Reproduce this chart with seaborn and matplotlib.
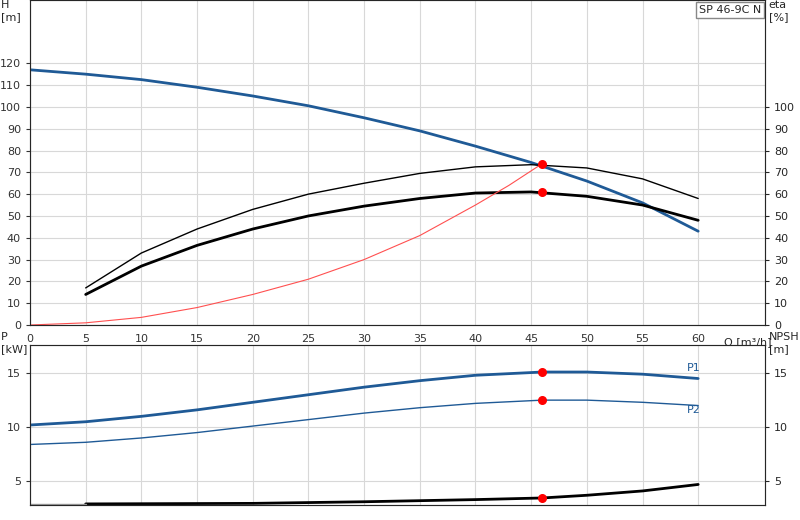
import matplotlib
matplotlib.use("Agg")
import matplotlib.pyplot as plt
import seaborn as sns

sns.set_style("white")
plt.rcParams['font.family'] = ['DejaVu Sans']

# head curve
q_h = [0, 5, 10, 15, 20, 25, 30, 35, 40, 45, 50, 55, 60]
h = [117, 115, 112.5, 109, 105, 100.5, 95, 89, 82, 74.5, 66, 56, 43]
# efficiencies
q_e = [5, 10, 15, 20, 25, 30, 35, 40, 45, 50, 55, 60]
eta_pump = [17, 33, 44, 53, 60, 65, 69.5, 72.5, 73.5, 72, 67, 58]
eta_tot = [14, 27, 36.5, 44, 50, 54.5, 58, 60.5, 61, 59, 55, 48]
# system curve
q_s = [0, 5, 10, 15, 20, 25, 30, 35, 40, 43, 46]
h_s = [0, 1, 3.5, 8, 14, 21, 30, 41, 55, 64, 74]
# power / npsh
q_p = [0, 5, 10, 15, 20, 25, 30, 35, 40, 46, 50, 55, 60]
p1 = [10.2, 10.5, 11, 11.6, 12.3, 13, 13.7, 14.3, 14.8, 15.1, 15.1, 14.9, 14.5]
p2 = [8.4, 8.6, 9, 9.5, 10.1, 10.7, 11.3, 11.8, 12.2, 12.5, 12.5, 12.3, 12.0]
q_n = [5, 20, 30, 40, 46, 50, 55, 60]
npsh = [2.9, 2.95, 3.1, 3.3, 3.45, 3.7, 4.1, 4.7]
duty_q = 46
duty_top = [74, 61]
duty_bot = [15.1, 12.5, 3.45]

blue = "#1f5a96"
fig = plt.figure(figsize=(8, 5.2), dpi=100)
ax1 = fig.add_axes([30/800, 1-325/520, 735/800, 325/520])
ax2 = fig.add_axes([30/800, 1-505/520, 735/800, 160/520])

for ax in (ax1, ax2):
    ax.set_xlim(0, 66)
    ax.set_xticks(range(0, 65, 5))
    ax.grid(True, color="#d8d8d8", lw=0.8)
    for s in ax.spines.values():
        s.set_color("#888888")
    ax.tick_params(labelsize=8, length=3, colors="#333333")

sns.lineplot(x=q_h, y=h, ax=ax1, color=blue, lw=2)
sns.lineplot(x=q_e, y=eta_pump, ax=ax1, color="black", lw=1)
sns.lineplot(x=q_e, y=eta_tot, ax=ax1, color="black", lw=2)
sns.lineplot(x=q_s, y=h_s, ax=ax1, color="#ff5050", lw=0.8)
ax1.scatter([duty_q]*2, duty_top, color="red", s=30, zorder=5)
ax1.set_ylim(0, 149)
ax1.set_yticks(range(0, 121, 10))
ax1.set_xticklabels([str(v) for v in range(0, 65, 5)])
ax1.text(62.3, -8, "Q [m³/h]", fontsize=8, va="center")
r1 = ax1.twinx()
r1.set_ylim(0, 149)
r1.set_yticks(range(0, 101, 10))
r1.tick_params(labelsize=8, length=3)
ax1.text(-0.04, 1.0, "H\n[m]", transform=ax1.transAxes, fontsize=8, va="top")
ax1.text(1.005, 1.0, "eta\n[%]", transform=ax1.transAxes, fontsize=8, va="top")
ax1.text(0.995, 0.985, "SP 46-9C N", transform=ax1.transAxes, fontsize=8, ha="right", va="top",
         bbox=dict(facecolor="white", edgecolor="#888888", pad=2))

sns.lineplot(x=q_p, y=p1, ax=ax2, color=blue, lw=2)
sns.lineplot(x=q_p, y=p2, ax=ax2, color=blue, lw=1)
sns.lineplot(x=q_n, y=npsh, ax=ax2, color="black", lw=2)
ax2.plot([0, 5], [2.9, 2.9], color="#999999", lw=1)
ax2.scatter([duty_q]*3, duty_bot, color="red", s=30, zorder=5)
ax2.text(59, 15.2, "P1", color=blue, fontsize=8)
ax2.text(59, 11.3, "P2", color=blue, fontsize=8)
ax2.set_ylim(2.8, 17.6)
ax2.set_yticks([5, 10, 15])
ax2.set_xticklabels([])
r2 = ax2.twinx()
r2.set_ylim(2.8, 17.6)
r2.set_yticks([5, 10, 15])
r2.tick_params(labelsize=8, length=3)
ax2.text(-0.04, 1.08, "P\n[kW]", transform=ax2.transAxes, fontsize=8, va="top")
ax2.text(1.005, 1.08, "NPSH\n[m]", transform=ax2.transAxes, fontsize=8, va="top")

fig.savefig("out.png", dpi=100)
